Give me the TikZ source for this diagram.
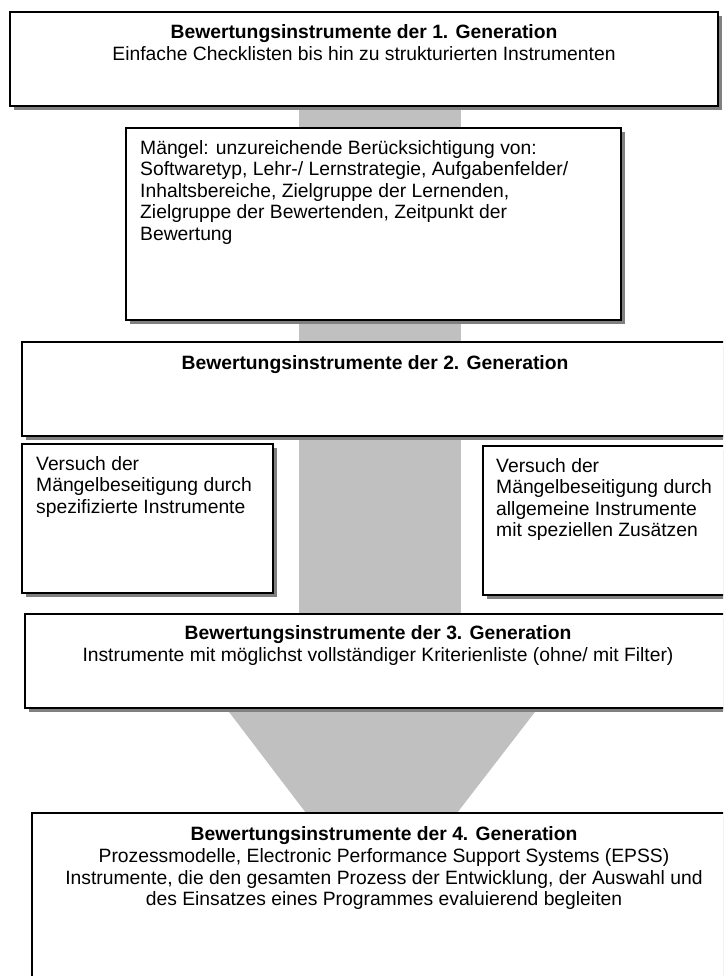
\documentclass[tikz,border=0pt]{standalone}
\usepackage{fontspec}
\setmainfont{Liberation Sans}
\usetikzlibrary{shadows}
\definecolor{bargray}{RGB}{192,192,192}
\definecolor{shadowgray}{RGB}{128,128,128}
\tikzset{
	genbox/.style={draw=black,line width=1.2pt,fill=white,inner sep=0pt,
		drop shadow={shadow xshift=4pt,shadow yshift=-4pt,fill=shadowgray,opacity=1}},
	boxtext/.style={inner sep=0pt,font=\fontsize{19.3}{21.6}\selectfont}
}
\begin{document}
\begin{tikzpicture}[x=1pt,y=-1pt]
		\useasboundingbox (0,0) rectangle (723,976);
		\clip (0,0) rectangle (723,976);
		
		% draw grey bar behind the boxes
		\fill[bargray] (299,106) rectangle (461,614);
		\fill[bargray] (226,708) -- (538,708) -- (457,813) -- (306,813) -- cycle;
		
		% draw boxes
		\node (gen1) at (364,59) [genbox,minimum width=708pt,minimum height=94pt] {};
		\node (maengel) at (373.5,224) [genbox,minimum width=495pt,minimum height=192pt] {};
		\node (gen2) at (375,389) [genbox,minimum width=706pt,minimum height=94pt] {};
		\node (versuchspez) at (147.5,518.5) [genbox,minimum width=251pt,minimum height=149pt] {};
		\node (versuchallg) at (611.5,520.5) [genbox,minimum width=257pt,minimum height=149pt] {};
		\node (gen3) at (378,661) [genbox,minimum width=706pt,minimum height=94pt] {};
		\node (gen4) at (384,906.5) [genbox,minimum width=704pt,minimum height=187pt] {};
		
		% texts of the generations
		\node (gen1text) at (364,24) [boxtext,anchor=north,align=center]
			{\textbf{Bewertungsinstrumente der 1. Generation}\\[1pt]Einfache Checklisten bis hin zu strukturierten Instrumenten};
		\node (gen2text) at (375,355) [boxtext,anchor=north,align=center]
			{\textbf{Bewertungsinstrumente der 2. Generation}};
		\node (gen3text) at (378,625) [boxtext,anchor=north,align=center]
			{\textbf{Bewertungsinstrumente der 3. Generation}\\[1pt]Instrumente mit möglichst vollständiger Kriterienliste (ohne/ mit Filter)};
		\node (gen4text) at (384,826) [boxtext,anchor=north,align=center]
			{\textbf{Bewertungsinstrumente der 4. Generation}\\[1pt]Prozessmodelle, Electronic Performance Support Systems (EPSS)\\Instrumente, die den gesamten Prozess der Entwicklung, der Auswahl und\\des Einsatzes eines Programmes evaluierend begleiten};
		
		% texts of the side boxes
		\node (maengeltext) at (140,140) [boxtext,anchor=north west,align=left]
			{Mängel: unzureichende Berücksichtigung von:\\Softwaretyp, Lehr-/ Lernstrategie, Aufgabenfelder/\\Inhaltsbereiche, Zielgruppe der Lernenden,\\Zielgruppe der Bewertenden, Zeitpunkt der\\Bewertung};
		\node (versuchspeztext) at (36,456) [boxtext,anchor=north west,align=left]
			{Versuch der\\Mängelbeseitigung durch\\spezifizierte Instrumente};
		\node (versuchallgtext) at (496,458) [boxtext,anchor=north west,align=left]
			{Versuch der\\Mängelbeseitigung durch\\allgemeine Instrumente\\mit speziellen Zusätzen};
\end{tikzpicture}
\end{document}
